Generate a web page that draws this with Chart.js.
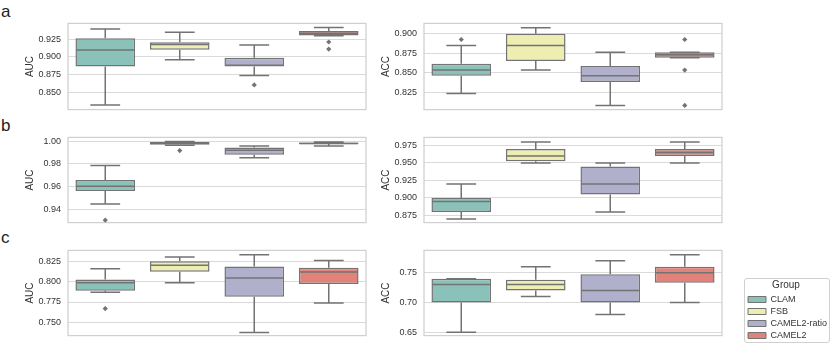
<!DOCTYPE html>
<html><head><meta charset="utf-8">
<script src="https://cdn.jsdelivr.net/npm/chart.js@4.4.0/dist/chart.umd.min.js"></script>
<style>
html,body{margin:0;padding:0;background:#fff;width:830px;height:343px;overflow:hidden;position:relative;font-family:"Liberation Sans",Arial,sans-serif}
.pn{position:absolute}
.lt{position:absolute;font-size:17px;color:#222;line-height:1}
#legwrap{position:absolute;left:744px;top:278px;width:84px;height:63px;border:1px solid #d0d0d0;border-radius:3px;box-sizing:content-box;overflow:hidden}
</style></head><body>
<div class="lt" style="left:1px;top:3px">a</div>
<div class="lt" style="left:1px;top:117px">b</div>
<div class="lt" style="left:1px;top:229px">c</div>
<div id="legwrap"><canvas id="leg" width="84" height="200"></canvas></div>
<script>
const groups = ['CLAM', 'FSB', 'CAMEL2-ratio', 'CAMEL2'];
const fills = ['#8ac2b9', '#eeeeb3', '#b1b0cc', '#e2837b'];
const edge = '#737373';

// Panel a, AUC
const aAucLo  = [0.832, 0.8958, 0.8737, 0.9297];
const aAucQ1  = [0.8863, 0.910, 0.8863, 0.9301];
const aAucMed = [0.9096, 0.9173, 0.888, 0.9332];
const aAucQ3  = [0.926, 0.9204, 0.8987, 0.9362];
const aAucHi  = [0.939, 0.9345, 0.9165, 0.9413];
const aAucOutGroup = [2, 3, 3];
const aAucOutVal   = [0.8603, 0.9208, 0.9109];
const aAucTicks = ['0.850', '0.875', '0.900', '0.925'];

// Panel a, ACC
const aAccLo  = [0.8234, 0.8535, 0.8082, 0.8692];
const aAccQ1  = [0.8461, 0.8653, 0.8384, 0.8692];
const aAccMed = [0.8535, 0.8849, 0.8461, 0.8730];
const aAccQ3  = [0.8616, 0.900, 0.8589, 0.8765];
const aAccHi  = [0.8849, 0.9078, 0.8765, 0.8765];
const aAccOutGroup = [0, 3, 3, 3];
const aAccOutVal   = [0.8927, 0.8927, 0.8535, 0.8082];
const aAccTicks = ['0.825', '0.850', '0.875', '0.900'];

// Panel b, AUC
const bAucLo  = [0.9448, 0.9963, 0.9853, 0.9957];
const bAucQ1  = [0.9563, 0.9968, 0.988, 0.9971];
const bAucMed = [0.9605, 0.9981, 0.992, 0.9979];
const bAucQ3  = [0.9659, 0.9992, 0.9944, 0.9987];
const bAucHi  = [0.9787, 0.9997, 0.9957, 0.9992];
const bAucOutGroup = [0, 1];
const bAucOutVal   = [0.9307, 0.9917];
const bAucTicks = ['0.94', '0.96', '0.98', '1.00'];

// Panel b, ACC
const bAccLo  = [0.870, 0.950, 0.880, 0.950];
const bAccQ1  = [0.880, 0.9525, 0.905, 0.960];
const bAccMed = [0.895, 0.960, 0.920, 0.965];
const bAccQ3  = [0.900, 0.970, 0.945, 0.970];
const bAccHi  = [0.920, 0.980, 0.950, 0.980];
const bAccOutGroup = [];
const bAccOutVal   = [];
const bAccTicks = ['0.875', '0.900', '0.925', '0.950', '0.975'];

// Panel c, AUC
const cAucLo  = [0.7871, 0.7986, 0.7375, 0.7739];
const cAucQ1  = [0.7889, 0.812, 0.7816, 0.7971];
const cAucMed = [0.7986, 0.8202, 0.8044, 0.8117];
const cAucQ3  = [0.8027, 0.825, 0.8186, 0.8169];
const cAucHi  = [0.8158, 0.8302, 0.8331, 0.8258];
const cAucOutGroup = [0];
const cAucOutVal   = [0.7669];
const cAucTicks = ['0.750', '0.775', '0.800', '0.825'];

// Panel c, ACC
const cAccLo  = [0.65, 0.71, 0.68, 0.70];
const cAccQ1  = [0.70, 0.72, 0.70, 0.7333];
const cAccMed = [0.73, 0.73, 0.72, 0.75];
const cAccQ3  = [0.74, 0.738, 0.7476, 0.76];
const cAccHi  = [0.74, 0.76, 0.77, 0.78];
const cAccOutGroup = [];
const cAccOutVal   = [];
const cAccTicks = ['0.65', '0.70', '0.75'];

const FONT = '"Liberation Sans", Arial, sans-serif';
const AXW = 68, PW = 298, PADR = 8, PADV = 8;

function panel(p) {
  const wrap = document.createElement('div');
  wrap.className = 'pn';
  const W = AXW + PW + PADR, H = p.plotH + 2 * PADV;
  wrap.style.left = (p.plotLeft - AXW) + 'px';
  wrap.style.top = (p.plotTop - PADV) + 'px';
  const c = document.createElement('canvas');
  c.width = W; c.height = H;
  wrap.appendChild(c);
  document.body.appendChild(wrap);
  const tickVals = p.ticks.map(Number);
  new Chart(c, {
    type: 'bar',
    data: {
      labels: groups,
      datasets: [
        {
          type: 'bar',
          data: groups.map((g, i) => [p.q1[i], p.q3[i]]),
          backgroundColor: fills,
          borderColor: edge,
          borderWidth: 1.5,
          borderSkipped: false,
          barPercentage: 0.8,
          categoryPercentage: 1,
          order: 2
        },
        {
          type: 'line',
          data: p.outG.map((g, k) => ({x: groups[g], y: p.outV[k]})),
          showLine: false,
          pointStyle: 'rectRot',
          pointRadius: 2.6,
          pointHoverRadius: 2.6,
          backgroundColor: edge,
          borderColor: edge,
          borderWidth: 0,
          order: 1
        }
      ]
    },
    options: {
      responsive: false,
      animation: false,
      devicePixelRatio: 1,
      layout: {padding: {left: 0, right: PADR, top: PADV, bottom: PADV}},
      plugins: {legend: {display: false}, tooltip: {enabled: false}},
      scales: {
        x: {display: false, offset: true},
        y: {
          min: p.min, max: p.max,
          afterBuildTicks: s => { s.ticks = tickVals.map(v => ({value: v})); },
          afterFit: s => { s.width = AXW; },
          grid: {color: '#dadada', lineWidth: 1, drawTicks: false},
          border: {display: false},
          ticks: {padding: 7, color: '#333', font: {size: 9, family: FONT},
                  callback: (v, i) => p.ticks[i]},
          title: {display: true, text: p.title, color: '#333',
                  font: {size: 10, family: FONT}, padding: {top: 24, bottom: 0}}
        }
      }
    },
    plugins: [{
      id: 'boxframe',
      beforeDatasetsDraw(ch) {
        const a = ch.chartArea, ctx = ch.ctx;
        ctx.save();
        ctx.strokeStyle = '#d0d0d0';
        ctx.lineWidth = 1.25;
        ctx.strokeRect(a.left, a.top, a.right - a.left, a.bottom - a.top);
        ctx.restore();
      },
      afterDatasetsDraw(ch) {
        const ctx = ch.ctx, y = ch.scales.y, meta = ch.getDatasetMeta(0);
        ctx.save();
        ctx.strokeStyle = edge;
        ctx.lineWidth = 1.5;
        meta.data.forEach((bar, i) => {
          const x = bar.x, w = bar.width, cw = w / 2;
          const pLo = y.getPixelForValue(p.lo[i]);
          const pQ1 = y.getPixelForValue(p.q1[i]);
          const pMed = y.getPixelForValue(p.med[i]);
          const pQ3 = y.getPixelForValue(p.q3[i]);
          const pHi = y.getPixelForValue(p.hi[i]);
          ctx.beginPath();
          ctx.moveTo(x, pQ3); ctx.lineTo(x, pHi);
          ctx.moveTo(x - cw / 2, pHi); ctx.lineTo(x + cw / 2, pHi);
          ctx.moveTo(x, pQ1); ctx.lineTo(x, pLo);
          ctx.moveTo(x - cw / 2, pLo); ctx.lineTo(x + cw / 2, pLo);
          ctx.moveTo(x - w / 2 + 0.75, pMed); ctx.lineTo(x + w / 2 - 0.75, pMed);
          ctx.stroke();
        });
        ctx.restore();
      }
    }]
  });
}

panel({plotLeft: 68,  plotTop: 19,  plotH: 95, title: 'AUC', min: 0.8256, max: 0.947,
  lo: aAucLo, q1: aAucQ1, med: aAucMed, q3: aAucQ3, hi: aAucHi, outG: aAucOutGroup, outV: aAucOutVal, ticks: aAucTicks});
panel({plotLeft: 424, plotTop: 19,  plotH: 95, title: 'ACC', min: 0.8029, max: 0.9133,
  lo: aAccLo, q1: aAccQ1, med: aAccMed, q3: aAccQ3, hi: aAccHi, outG: aAccOutGroup, outV: aAccOutVal, ticks: aAccTicks});
panel({plotLeft: 68,  plotTop: 133, plotH: 94, title: 'AUC', min: 0.9286, max: 1.0032,
  lo: bAucLo, q1: bAucQ1, med: bAucMed, q3: bAucQ3, hi: bAucHi, outG: bAucOutGroup, outV: bAucOutVal, ticks: bAucTicks});
panel({plotLeft: 424, plotTop: 133, plotH: 94, title: 'ACC', min: 0.8647, max: 0.9866,
  lo: bAccLo, q1: bAccQ1, med: bAccMed, q3: bAccQ3, hi: bAccHi, outG: bAccOutGroup, outV: bAccOutVal, ticks: bAccTicks});
panel({plotLeft: 68,  plotTop: 246, plotH: 94, title: 'AUC', min: 0.7338, max: 0.8383,
  lo: cAucLo, q1: cAucQ1, med: cAucMed, q3: cAucQ3, hi: cAucHi, outG: cAucOutGroup, outV: cAucOutVal, ticks: cAucTicks});
panel({plotLeft: 424, plotTop: 246, plotH: 94, title: 'ACC', min: 0.6445, max: 0.7874,
  lo: cAccLo, q1: cAccQ1, med: cAccMed, q3: cAccQ3, hi: cAccHi, outG: cAccOutGroup, outV: cAccOutVal, ticks: cAccTicks});

// Legend
new Chart(document.getElementById('leg'), {
  type: 'bar',
  data: {
    labels: [''],
    datasets: groups.map((g, i) => ({label: g, data: [], backgroundColor: fills[i], borderColor: edge, borderWidth: 1}))
  },
  options: {
    responsive: false, animation: false, devicePixelRatio: 1,
    layout: {padding: 0},
    scales: {x: {display: false}, y: {display: false}},
    plugins: {
      tooltip: {enabled: false},
      legend: {
        position: 'top', align: 'start',
        title: {display: true, text: 'Group', color: '#333', font: {size: 10, family: FONT}, padding: {top: 1, bottom: 0}},
        labels: {boxWidth: 18, boxHeight: 6, color: '#333', padding: 3, font: {size: 9, family: FONT}}
      }
    }
  }
});
</script>
</body></html>
